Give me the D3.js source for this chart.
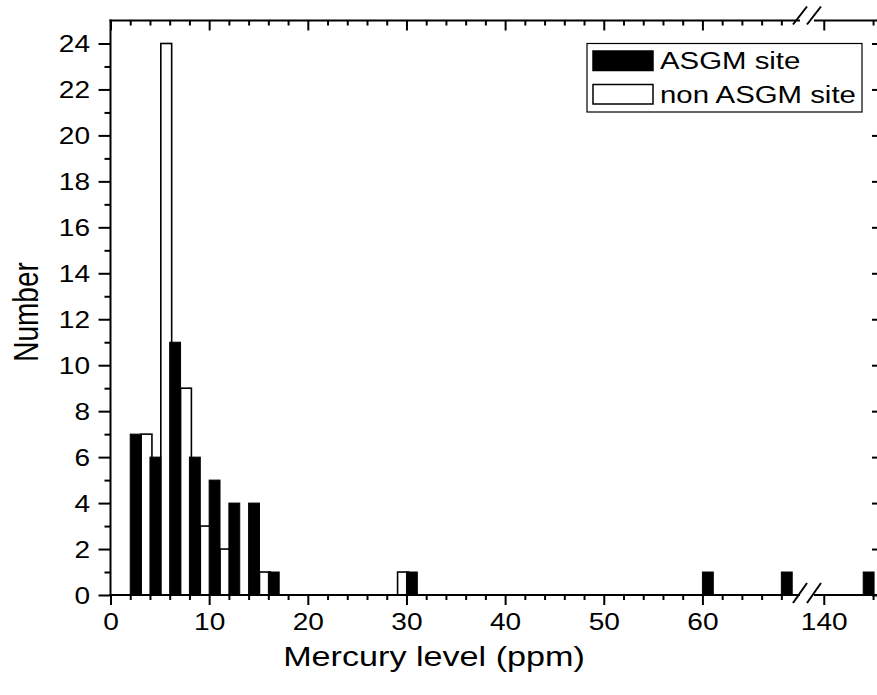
<!DOCTYPE html>
<html>
<head>
<meta charset="utf-8">
<script src="https://cdn.jsdelivr.net/npm/d3@7"></script>
<style>
  body { margin: 0; background: #fff; }
  svg text { font-family: "Liberation Sans", Arial, sans-serif; fill: #000; }
</style>
</head>
<body>
<div id="chart"></div>
<script>
// bins (ppm, lower edge of each 2 ppm bin) and counts per site type
var bins = [2, 4, 6, 8, 10, 12, 14, 16, 28, 30, 60, 68, 144];
var asgm = [7, 6, 11, 6, 5, 4, 4, 1, 0, 1, 1, 1, 1];
var nonAsgm = [7, 24, 9, 3, 2, 0, 1, 0, 1, 0, 0, 0, 0];

var yMajor = [0, 2, 4, 6, 8, 10, 12, 14, 16, 18, 20, 22, 24];
var xMajorLeft = [0, 10, 20, 30, 40, 50, 60];
var xMajorRight = [140];
var xMinorRight = [145];
var legendLabels = ["ASGM site", "non ASGM site"];

var W = 877, H = 695,
    sx = 1.22;   // text in the picture is slightly wide

var svg = d3.select("#chart").append("svg")
    .attr("width", W)
    .attr("height", H);

var y = d3.scaleLinear().domain([0, 25]).range([595, 20.5]);
var brk = 807;
var xL = d3.scaleLinear().domain([0, 70.6]).range([110.5, brk]);
var xR = d3.scaleLinear().domain([138.3, 145.5]).range([brk, 878]);
function xs(v) { return v > 100 ? xR(v) : xL(v); }

var xMinorLeft = d3.range(2, 70, 2).filter(function(d) { return d % 10 !== 0; });
var yMinor = d3.range(1, 25, 2);

// bars: open drawn first, black on top
var rows = bins.map(function(b, i) { return {b: b, a: asgm[i], n: nonAsgm[i]}; });

svg.append("g").selectAll("rect")
    .data(rows.filter(function(d) { return d.n > 0; }))
  .enter().append("rect")
    .attr("x", function(d) { return xs(d.b + 1.1); })
    .attr("width", function(d) { return xs(d.b + 2.2) - xs(d.b + 1.1); })
    .attr("y", function(d) { return y(d.n); })
    .attr("height", function(d) { return y(0) - y(d.n); })
    .attr("fill", "#fff")
    .attr("stroke", "#000")
    .attr("stroke-width", 1.6);

svg.append("g").selectAll("rect")
    .data(rows.filter(function(d) { return d.a > 0; }))
  .enter().append("rect")
    .attr("x", function(d) { return xs(d.b); })
    .attr("width", function(d) { return xs(d.b + 1.1) - xs(d.b); })
    .attr("y", function(d) { return y(d.a); })
    .attr("height", function(d) { return y(0) - y(d.a); })
    .attr("fill", "#000")
    .attr("stroke", "#000")
    .attr("stroke-width", 1);

function styleAxis(g) {
  g.select(".domain").remove();
  g.selectAll(".tick line").attr("stroke", "#000").attr("stroke-width", 2);
}

function noLabel() { return ""; }

// bottom axis
var gBottom = svg.append("g").attr("transform", "translate(0," + y(0) + ")");
gBottom.append("g").call(d3.axisBottom(xL).tickValues(xMajorLeft).tickSize(10).tickSizeOuter(0)).call(styleAxis);
gBottom.append("g").call(d3.axisBottom(xL).tickValues(xMinorLeft).tickSize(5).tickFormat(noLabel)).call(styleAxis);
gBottom.append("g").call(d3.axisBottom(xR).tickValues(xMajorRight).tickSize(10).tickSizeOuter(0)).call(styleAxis);
gBottom.append("g").call(d3.axisBottom(xR).tickValues(xMinorRight).tickSize(5).tickFormat(noLabel)).call(styleAxis);
gBottom.selectAll(".tick text")
    .attr("y", 0).attr("dy", 0)
    .attr("transform", "translate(0,35) scale(" + sx + ",1)")
    .style("font-size", "23px");

// top axis, ticks inward
var gTop = svg.append("g").attr("transform", "translate(0," + y(25) + ")");
gTop.append("g").call(d3.axisTop(xL).tickValues(xMajorLeft).tickSize(-10).tickFormat(noLabel)).call(styleAxis);
gTop.append("g").call(d3.axisTop(xL).tickValues(xMinorLeft).tickSize(-5).tickFormat(noLabel)).call(styleAxis);
gTop.append("g").call(d3.axisTop(xR).tickValues(xMajorRight).tickSize(-10).tickFormat(noLabel)).call(styleAxis);
gTop.append("g").call(d3.axisTop(xR).tickValues(xMinorRight).tickSize(-5).tickFormat(noLabel)).call(styleAxis);

// left axis
var gLeft = svg.append("g").attr("transform", "translate(" + xL(0) + ",0)");
gLeft.append("g").call(d3.axisLeft(y).tickValues(yMajor).tickSize(12)).call(styleAxis);
gLeft.append("g").call(d3.axisLeft(y).tickValues(yMinor).tickSize(6).tickFormat(noLabel)).call(styleAxis);
gLeft.selectAll(".tick text")
    .attr("x", -20.5 / sx).attr("dy", "0.36em")
    .attr("transform", "scale(" + sx + ",1)")
    .style("font-size", "23px");

// right axis (line just past the edge), ticks inward
var gRight = svg.append("g").attr("transform", "translate(" + xR(145.5) + ",0)");
gRight.append("g").call(d3.axisRight(y).tickValues(yMajor).tickSize(-6).tickFormat(noLabel)).call(styleAxis);

// axis lines with the break
var gap = 7;
[y(0), y(25)].forEach(function(yy) {
  svg.append("line").attr("x1", xL(0) - 1).attr("x2", brk - gap).attr("y1", yy).attr("y2", yy)
      .attr("stroke", "#000").attr("stroke-width", 2);
  svg.append("line").attr("x1", brk + gap).attr("x2", xR(145.5)).attr("y1", yy).attr("y2", yy)
      .attr("stroke", "#000").attr("stroke-width", 2);
});
svg.append("line").attr("x1", xL(0)).attr("x2", xL(0)).attr("y1", y(25) - 1).attr("y2", y(0) + 1)
    .attr("stroke", "#000").attr("stroke-width", 2);
svg.append("line").attr("x1", xR(145.5)).attr("x2", xR(145.5)).attr("y1", y(25)).attr("y2", y(0))
    .attr("stroke", "#000").attr("stroke-width", 2);

// break marks
[[y(0) - 2, 10], [y(25) - 5, 9]].forEach(function(p) {
  [brk - gap, brk + gap].forEach(function(cx) {
    svg.append("line")
        .attr("x1", cx - 7).attr("y1", p[0] + p[1])
        .attr("x2", cx + 7).attr("y2", p[0] - p[1])
        .attr("stroke", "#000").attr("stroke-width", 2);
  });
});

// axis titles
svg.append("text")
    .attr("transform", "translate(434,666) scale(" + sx + ",1)")
    .attr("text-anchor", "middle")
    .style("font-size", "28px")
    .text("Mercury level (ppm)");

svg.append("text")
    .attr("transform", "translate(38,312) rotate(-90) scale(1," + sx + ")")
    .attr("text-anchor", "middle")
    .style("font-size", "28px")
    .text("Number");

// legend
var lg = svg.append("g");
lg.append("rect")
    .attr("x", 587).attr("y", 43.5).attr("width", 275).attr("height", 68.5)
    .attr("fill", "#fff").attr("stroke", "#000").attr("stroke-width", 1.2);
var items = lg.selectAll("g.item")
    .data(legendLabels)
  .enter().append("g")
    .attr("class", "item")
    .attr("transform", function(d, i) { return "translate(593," + (51 + i * 33.5) + ")"; });
items.append("rect")
    .attr("width", 60).attr("height", 19.5)
    .attr("fill", function(d, i) { return i === 0 ? "#000" : "#fff"; })
    .attr("stroke", "#000").attr("stroke-width", 1.5);
items.append("text")
    .attr("transform", "translate(67,18) scale(1.25,1)")
    .style("font-size", "23.5px")
    .text(function(d) { return d; });
</script>
</body>
</html>
